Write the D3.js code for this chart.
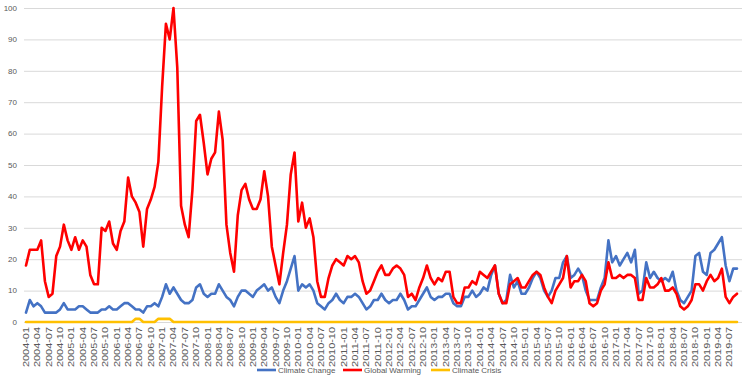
<!DOCTYPE html>
<html><head><meta charset="utf-8">
<script src="https://cdn.jsdelivr.net/npm/d3@7"></script>
<style>
body{margin:0;background:#fff}
svg{display:block}
text{font-family:"Liberation Sans",Arial,sans-serif;fill:#595959}
</style></head>
<body><svg id="c" width="750" height="379"></svg>
<script>
// ---- data (monthly, 2004-01 .. 2019-09) ----
const startYear = 2004, monthCount = 189;
const months = [];
for (let k = 0; k < monthCount; k++) {
  const yy = startYear + Math.floor(k / 12), mm = (k % 12) + 1;
  months.push(yy + "-" + String(mm).padStart(2, "0"));
}
const tickLabels = months.filter((m, k) => k % 3 === 0);
const yTicks = [0,10,20,30,40,50,60,70,80,90,100];
const seriesNames = ["Climate Change", "Global Warming", "Climate Crisis"];

const climateChange = [
  3,7,5,6,5,3,3,3,3,4,6,4,
  4,4,5,5,4,3,3,3,4,4,5,4,
  4,5,6,6,5,4,4,3,5,5,6,5,
  8,12,9,11,9,7,6,6,7,11,12,9,
  8,9,9,12,10,8,7,5,8,10,10,9,
  8,10,11,12,10,11,8,6,10,13,17,21,
  10,12,11,12,10,6,5,4,6,7,9,7,
  6,8,8,9,8,6,4,5,7,7,9,7,
  6,7,7,9,7,4,5,5,7,9,11,8,
  7,8,8,9,9,6,5,5,8,8,10,8,
  9,11,10,15,18,9,6,7,15,11,13,9,
  9,11,14,16,14,10,8,10,14,14,19,21,
  14,15,17,15,10,7,7,7,11,14,26,19,
  21,18,20,22,19,23,9,10,19,14,16,14,
  13,14,13,16,10,7,6,8,10,21,22,16,
  15,22,23,25,27,18,13,17,17
];
const globalWarming = [
  18,23,23,23,26,13,8,9,21,24,31,26,
  23,27,23,26,24,15,12,12,30,29,32,25,
  23,29,32,46,40,38,35,24,36,39,43,51,
  75,95,90,100,81,37,31,27,42,64,66,57,
  47,52,54,67,58,31,22,16,34,42,44,39,
  36,36,39,48,40,24,18,12,22,31,47,54,
  32,38,30,33,27,13,8,8,14,18,20,19,
  18,21,20,21,19,13,9,10,13,16,18,15,
  15,17,18,17,15,8,9,7,11,14,18,14,
  12,14,13,16,16,8,6,6,11,11,13,12,
  16,15,14,16,18,9,6,6,12,13,14,11,
  11,13,15,16,15,11,8,6,10,12,14,21,
  11,13,13,15,13,6,5,6,10,12,19,14,
  14,15,14,15,15,14,7,7,14,11,11,12,
  14,10,10,11,9,5,4,5,7,12,12,10,
  13,15,13,14,17,8,6,8,9
];
const climateCrisis = [
  0,0,0,0,0,0,0,0,0,0,0,0,
  0,0,0,0,0,0,0,0,0,0,0,0,
  0,0,0,0,0,1,1,0,0,0,0,1,
  1,1,1,0,0,0,0,0,0,0,0,0,
  0,0,0,0,0,0,0,0,0,0,0,0,
  0,0,0,0,0,0,0,0,0,0,0,0,
  0,0,0,0,0,0,0,0,0,0,0,0,
  0,0,0,0,0,0,0,0,0,0,0,0,
  0,0,0,0,0,0,0,0,0,0,0,0,
  0,0,0,0,0,0,0,0,0,0,0,0,
  0,0,0,0,0,0,0,0,0,0,0,0,
  0,0,0,0,0,0,0,0,0,0,0,0,
  0,0,0,0,0,0,0,0,0,0,0,0,
  0,0,0,0,0,0,0,0,0,0,0,0,
  0,0,0,0,0,0,0,0,0,0,0,0,
  0,0,0,0,0,0,0,0,0
];
const colors = ["#4472C4", "#FF0000", "#FFC000"];

// ---- chart ----
const svg = d3.select("#c");
const x = d3.scalePoint().domain(months).range([26, 737]);
const y = d3.scaleLinear().domain([0, 100]).range([322, 8]);
const gridLeft = 24, gridRight = 742;

// gridlines
svg.append("g").selectAll("line").data(yTicks).join("line")
  .attr("x1", gridLeft).attr("x2", gridRight)
  .attr("y1", d => y(d) + 0.5).attr("y2", d => y(d) + 0.5)
  .attr("stroke", "#d9d9d9").attr("stroke-width", 1);

// y labels
svg.append("g").selectAll("text").data(yTicks).join("text")
  .attr("x", 17).attr("y", d => Math.max(y(d), 4))
  .attr("dy", "0.35em").attr("text-anchor", "end")
  .attr("font-size", 8).text(d => d);

// x labels
svg.append("g").selectAll("text").data(tickLabels).join("text")
  .attr("transform", d => `translate(${x(d)},327) rotate(-90)`)
  .attr("text-anchor", "end").attr("dy", "0.35em")
  .attr("font-size", 8.5)
  .attr("textLength", 40).attr("lengthAdjust", "spacingAndGlyphs")
  .text(d => d);

// lines (draw crisis first? Excel draws in series order)
const allSeries = [climateChange, globalWarming, climateCrisis];
const line = d3.line().x((d, k) => x(months[k])).y(d => y(d));
allSeries.forEach((s, k) => {
  svg.append("path").datum(s)
    .attr("d", line).attr("fill", "none")
    .attr("stroke", colors[k]).attr("stroke-width", 2.6)
    .attr("stroke-linejoin", "round").attr("stroke-linecap", "round");
});

// legend
const legendX = [257, 343, 431];
const lg = svg.append("g");
seriesNames.forEach((n, k) => {
  lg.append("line").attr("x1", legendX[k]).attr("x2", legendX[k] + 19)
    .attr("y1", 370).attr("y2", 370)
    .attr("stroke", colors[k]).attr("stroke-width", 2.6);
  lg.append("text").attr("x", legendX[k] + 21).attr("y", 370)
    .attr("dy", "0.35em").attr("font-size", 8).text(n);
});
</script></body></html>
